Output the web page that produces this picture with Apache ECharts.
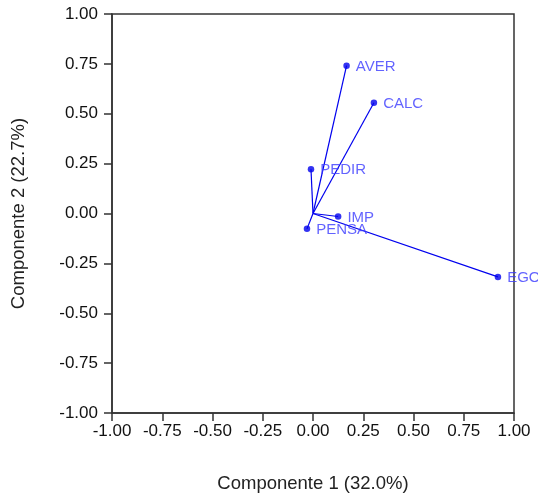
<!DOCTYPE html>
<html>
<head>
<meta charset="utf-8">
<script src="https://cdn.jsdelivr.net/npm/echarts@6/dist/echarts.min.js"></script>
<style>html,body{margin:0;padding:0;background:#fff}#c{width:538px;height:495px}</style>
</head>
<body>
<div id="c"></div>
<script>
var variables = ['AVER', 'CALC', 'PEDIR', 'IMP', 'PENSA', 'EGO'];
var comp1 = [0.167, 0.303, -0.01, 0.125, -0.03, 0.92];
var comp2 = [0.741, 0.555, 0.222, -0.015, -0.077, -0.318];
var tickVals = [-1, -0.75, -0.5, -0.25, 0, 0.25, 0.5, 0.75, 1];
var xName = 'Componente 1 (32.0%)';
var yName = 'Componente 2 (22.7%)';

var points = variables.map(function (v, i) { return { name: v, value: [comp1[i], comp2[i]] }; });
var vectors = variables.map(function (v, i) { return { coords: [[0, 0], [comp1[i], comp2[i]]] }; });

var fontFam = 'Liberation Sans, Arial, sans-serif';
function axisCommon(name, isX) {
  return {
    type: 'value', min: tickVals[0], max: tickVals[tickVals.length - 1], interval: 0.25,
    name: name, nameLocation: 'middle', nameGap: isX ? 61 : 84,
    nameTextStyle: { color: '#222', fontSize: 18.5, fontFamily: fontFam },
    axisLine: { show: true, onZero: false, lineStyle: { color: '#333', width: 1.5 } },
    axisTick: { show: true, inside: false, length: 8, lineStyle: { color: '#333', width: 1.5 } },
    axisLabel: { color: '#111', fontSize: 17, fontFamily: fontFam, margin: isX ? 10 : 14,
      formatter: function (v) { return v.toFixed(2); } },
    splitLine: { show: false }
  };
}

var chart = echarts.init(document.getElementById('c'));
chart.setOption({
  animation: false,
  backgroundColor: '#fff',
  grid: { left: 112, right: 24, top: 14, bottom: 82, containLabel: false, outerBoundsMode: 'none',
    show: true, borderColor: '#333', borderWidth: 1.5, backgroundColor: 'transparent' },
  xAxis: axisCommon(xName, true),
  yAxis: axisCommon(yName, false),
  series: [
    {
      type: 'lines', coordinateSystem: 'cartesian2d', data: vectors,
      lineStyle: { color: '#0000ee', width: 1.2, opacity: 1 }, symbol: 'none', silent: true
    },
    {
      type: 'scatter', data: points, symbol: 'circle', symbolSize: 6.5,
      itemStyle: { color: '#0000ee' },
      label: { show: true, position: 'right', distance: 6, offset: [0, 1], formatter: '{b}', color: '#3b3bff', fontSize: 15, fontFamily: fontFam }
    }
  ]
});
</script>
</body>
</html>
